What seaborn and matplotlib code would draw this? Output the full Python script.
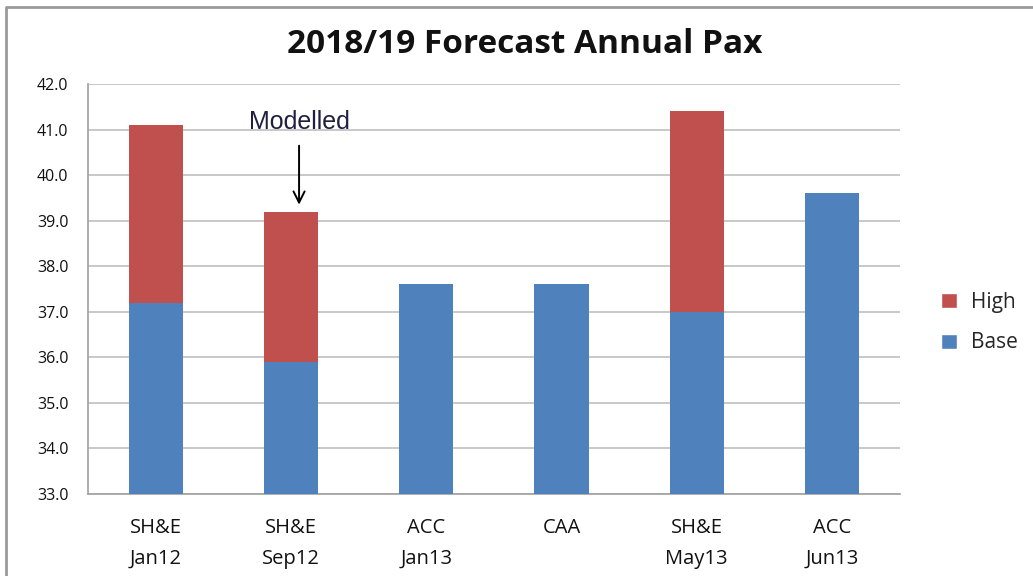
import numpy as np
import pandas as pd
import matplotlib.pyplot as plt
import seaborn as sns
from matplotlib.patches import Patch
from matplotlib.lines import Line2D

categories = ["SH&E\nJan12", "SH&E\nSep12", "ACC\nJan13", "CAA", "SH&E\nMay13", "ACC\nJun13"]
base = [37.2, 35.9, 37.6, 37.6, 37.0, 39.6]
high = [3.9, 3.3, 0.0, 0.0, 4.4, 0.0]

blue = "#4F81BD"
red = "#C0504D"

df = pd.DataFrame({"Source": categories, "Base": base, "High": high})
df["Total"] = df["Base"] + df["High"]

sns.set_style("white")
plt.rcParams['font.family'] = ['Open Sans', 'DejaVu Sans']

fig = plt.figure(figsize=(10.33, 5.76), dpi=100)
ax = fig.add_axes([0.0852, 0.1424, 0.7858, 0.7118])

sns.barplot(data=df, x="Source", y="Total", color=red, width=0.4, saturation=1,
            edgecolor="none", linewidth=0, ax=ax, zorder=3)
sns.barplot(data=df, x="Source", y="Base", color=blue, width=0.4, saturation=1,
            edgecolor="none", linewidth=0, ax=ax, zorder=3)

yt = np.arange(33, 42.5, 1.0)
ax.set_ylim(33, 42)
ax.set_xlim(-0.5, 5.5)
ax.set_yticks(yt)
ax.set_yticklabels([f"{v:.1f}" for v in yt], fontsize=11.5, color="#111111")
ax.yaxis.grid(True, color="#BFBFBF", linewidth=1.2, zorder=0)
ax.set_axisbelow(True)
ax.set_xlabel("")
ax.set_ylabel("")

# x tick labels and category-boundary ticks
ax.set_xticks(range(len(categories)))
ax.set_xticklabels(categories, fontsize=14.5, linespacing=1.75, color="#111111")
ax.tick_params(axis="x", length=0, pad=17)
ax.set_xticks(np.arange(-0.5, 6.0, 1.0), minor=True)
ax.tick_params(axis="x", which="minor", length=8, color="#A0A0A0", direction="out")
ax.tick_params(axis="y", length=8, color="#A0A0A0", direction="out", pad=6)

for side in ["top", "right"]:
    ax.spines[side].set_visible(False)
for side in ["left", "bottom"]:
    ax.spines[side].set_color("#A0A0A0")
    ax.spines[side].set_linewidth(1.2)

fig.text(0.508, 0.922, "2018/19 Forecast Annual Pax", ha="center", va="center",
         fontsize=24, fontweight="bold", color="#111111")

ax.annotate("Modelled", xy=(1.06, 39.35), xytext=(1.06, 40.9),
            ha="center", va="bottom", fontsize=18, family=["Liberation Sans"],
            color="#1F1F3F",
            arrowprops=dict(arrowstyle="->", color="black", lw=1.4,
                            shrinkA=6, shrinkB=0, mutation_scale=20))

handles = [Patch(facecolor=red, label="High"), Patch(facecolor=blue, label="Base")]
fig.legend(handles=handles, loc="center left", bbox_to_anchor=(0.893, 0.44),
           frameon=False, fontsize=15, handlelength=0.75, handleheight=0.75,
           labelspacing=0.95, handletextpad=0.7)

# chart border (top and left visible)
fig.lines.append(Line2D([0.006, 0.006, 1.0], [0.0, 0.988, 0.988], transform=fig.transFigure,
                        color="#9A9A9A", linewidth=2))

fig.savefig("out.png", dpi=100)
